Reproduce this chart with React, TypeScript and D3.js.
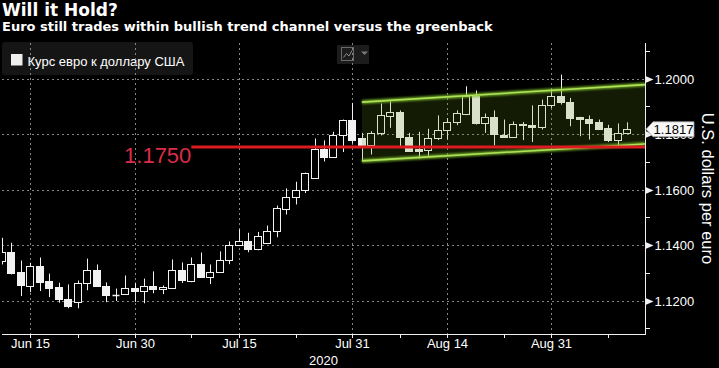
import React from 'react';
import * as d3 from 'd3';

const dates = ['Jun 10','Jun 11','Jun 12','Jun 15','Jun 16','Jun 17','Jun 18','Jun 19','Jun 22','Jun 23','Jun 24','Jun 25','Jun 26','Jun 29','Jun 30','Jul 1','Jul 2','Jul 3','Jul 6','Jul 7','Jul 8','Jul 9','Jul 10','Jul 13','Jul 14','Jul 15','Jul 16','Jul 17','Jul 20','Jul 21','Jul 22','Jul 23','Jul 24','Jul 27','Jul 28','Jul 29','Jul 30','Jul 31','Aug 3','Aug 4','Aug 5','Aug 6','Aug 7','Aug 10','Aug 11','Aug 12','Aug 13','Aug 14','Aug 17','Aug 18','Aug 19','Aug 20','Aug 21','Aug 24','Aug 25','Aug 26','Aug 27','Aug 28','Aug 31','Sep 1','Sep 2','Sep 3','Sep 4','Sep 7','Sep 8','Sep 9','Sep 10'];

const opens = [1.1342,1.1375,1.1301,1.1252,1.1325,1.1269,1.1247,1.1207,1.1195,1.1264,
  1.1311,1.1254,1.1221,1.1223,1.1246,1.1234,1.1253,1.1242,1.1245,1.1311,
  1.1272,1.1332,1.1284,1.1303,1.1347,1.1399,1.1416,1.1385,1.1409,1.1450,
  1.1529,1.1572,1.1598,1.1641,1.1747,1.1718,1.1795,1.1849,1.1787,1.1762,
  1.1803,1.1864,1.1880,1.1790,1.1747,1.1742,1.1785,1.1814,1.1845,1.1872,
  1.1936,1.1839,1.1863,1.1795,1.1790,1.1833,1.1834,1.1825,1.1903,1.1936,
  1.1917,1.1860,1.1855,1.1845,1.1820,1.1780,1.1805];
const highs = [1.1426,1.1408,1.1344,1.1336,1.1355,1.1297,1.1264,1.1258,1.1272,1.1351,
  1.1330,1.1265,1.1243,1.1290,1.1264,1.1279,1.1305,1.1254,1.1348,1.1337,
  1.1355,1.1373,1.1330,1.1377,1.1413,1.1456,1.1444,1.1447,1.1470,1.1542,
  1.1604,1.1628,1.1661,1.1784,1.1777,1.1808,1.1852,1.1912,1.1804,1.1810,
  1.1910,1.1918,1.1885,1.1804,1.1808,1.1819,1.1867,1.1857,1.1885,1.1972,
  1.1957,1.1874,1.1885,1.1852,1.1845,1.1843,1.1903,1.1924,1.1960,1.2014,
  1.1930,1.1862,1.1867,1.1852,1.1833,1.1838,1.1842];
const lows = [1.1330,1.1294,1.1216,1.1230,1.1234,1.1212,1.1192,1.1172,1.1172,1.1237,
  1.1250,1.1194,1.1198,1.1223,1.1195,1.1190,1.1226,1.1223,1.1243,1.1263,
  1.1266,1.1282,1.1259,1.1302,1.1331,1.1396,1.1374,1.1381,1.1405,1.1428,
  1.1510,1.1546,1.1587,1.1641,1.1701,1.1718,1.1735,1.1766,1.1705,1.1726,
  1.1795,1.1822,1.1756,1.1738,1.1711,1.1718,1.1778,1.1780,1.1832,1.1868,
  1.1834,1.1804,1.1759,1.1788,1.1788,1.1778,1.1771,1.1816,1.1894,1.1906,
  1.1828,1.1792,1.1780,1.1816,1.1771,1.1759,1.1802];
const closes = [1.1375,1.1300,1.1255,1.1325,1.1266,1.1245,1.1204,1.1180,1.1264,1.1311,
  1.1252,1.1219,1.1220,1.1246,1.1234,1.1253,1.1241,1.1249,1.1311,1.1273,
  1.1332,1.1284,1.1303,1.1347,1.1401,1.1415,1.1385,1.1431,1.1452,1.1532,
  1.1574,1.1600,1.1658,1.1747,1.1717,1.1795,1.1849,1.1778,1.1762,1.1805,
  1.1867,1.1880,1.1789,1.1738,1.1739,1.1786,1.1815,1.1844,1.1874,1.1936,
  1.1838,1.1862,1.1799,1.1789,1.1837,1.1837,1.1825,1.1904,1.1936,1.1915,
  1.1857,1.1855,1.1840,1.1819,1.1777,1.1803,1.1817];

const xMajorTicks = ['Jun 15','Jun 30','Jul 15','Jul 31','Aug 14','Aug 31'];
const xMinorTicks = ['Jun 22','Jul 8','Jul 23','Aug 7','Aug 24','Sep 8'];
const yearLabel = '2020';
const yMajorTicks = [1.12, 1.14, 1.16, 1.18, 1.20];
const yMinorTicks = [1.11, 1.13, 1.15, 1.17, 1.19, 1.21];

const channelStart = 'Aug 3';
const channelUpper = [1.1915, 1.1978];
const channelLower = [1.1703, 1.1764];
const supportLevel = 1.1750;
const supportStart = 'Jul 8';
const lastPrice = 1.1817;

const title = 'Will it Hold?';
const subtitle = 'Euro still trades within bullish trend channel versus the greenback';
const legendLabel = 'Курс евро к доллару США';
const yAxisTitle = 'U.S. dollars per euro';

const W = 719;
const H = 368;
const plot = { left: 2, right: 645, top: 43, bottom: 334 };
const sans = 'Liberation Sans, Arial, sans-serif';

export default function App() {
  const x = d3.scaleLinear().domain([0, 67.9]).range([1.9, 645.1]);
  const y = d3.scaleLinear().domain([1.12, 1.2]).range([300.5, 78.5]);
  const idx = (d: string) => dates.indexOf(d);
  const xd1 = x.domain()[1];

  const cs = idx(channelStart);
  const chPts: [number, number][] = [
    [x(cs), y(channelUpper[0])],
    [x(xd1), y(channelUpper[1])],
    [x(xd1), y(channelLower[1])],
    [x(cs), y(channelLower[0])],
  ];
  const line = d3.line();
  const upperPath = line([chPts[0], chPts[1]]) as string;
  const lowerPath = line([chPts[3], chPts[2]]) as string;
  const polyPath = (line(chPts) as string) + 'Z';

  const ySup = y(supportLevel);
  const yLast = y(lastPrice);
  const yMid = (plot.top + plot.bottom) / 2;

  return (
    <svg width={W} height={H} style={{ position: 'fixed', left: 0, top: 0, background: '#000' }}>
      <defs>
        <clipPath id="plotclip">
          <rect x={plot.left} y={plot.top} width={plot.right - plot.left} height={plot.bottom - plot.top} />
        </clipPath>
        <filter id="glow" x="-10%" y="-50%" width="120%" height="200%">
          <feGaussianBlur stdDeviation="1.3" />
        </filter>
      </defs>
      <rect x={0} y={0} width={W} height={H} fill="#000" />

      {/* titles */}
      <text x={2} y={16} fill="#fff" fontFamily="DejaVu Sans, sans-serif" fontWeight="bold" fontSize={17}>{title}</text>
      <text x={2} y={31} fill="#fff" fontFamily="DejaVu Sans, sans-serif" fontWeight="bold" fontSize={13}>{subtitle}</text>

      {/* legend */}
      <rect x={2} y={42} width={191} height={33} rx={3} fill="#151515" />
      <rect x={11} y={54} width={11.5} height={11.5} fill="#eeeeee" />
      <text x={27.5} y={65.5} fill="#fff" fontFamily={sans} fontSize={13}>{legendLabel}</text>
      <rect x={337} y={45} width={32} height={19} fill="#1c1c1c" />
      <rect x={341.5} y={47.5} width={12} height={13} fill="none" stroke="#6a6a6a" />
      <polyline points="343.5,57.5 346.5,53.5 349,56 352,50.5" fill="none" stroke="#8a8a8a" />
      <polygon points="361,51.5 368,51.5 364.5,55" fill="#7a7a7a" />

      {/* gridlines */}
      <g stroke="#858585" strokeWidth={1} strokeDasharray="2,3">
        {yMajorTicks.map((t) => {
          const yy = Math.round(y(t)) + 0.5;
          return <line key={'hg' + t} x1={plot.left} x2={plot.right} y1={yy} y2={yy} />;
        })}
        {xMajorTicks.map((d) => {
          const xx = Math.round(x(idx(d))) + 0.5;
          return <line key={'vg' + d} x1={xx} x2={xx} y1={plot.top} y2={plot.bottom} />;
        })}
      </g>

      {/* candles */}
      <g clipPath="url(#plotclip)">
        {dates.map((d, i) => {
          const o = opens[i], c = closes[i], h = highs[i], l = lows[i];
          const up = c > o;
          const cx = Math.round(x(i));
          const top = Math.round(y(Math.max(o, c)));
          const bot = Math.round(y(Math.min(o, c)));
          const bh = bot - top;
          const fill = up ? '#000' : '#f2f2f2';
          return (
            <g key={d}>
              <line x1={cx + 0.5} x2={cx + 0.5} y1={y(h)} y2={y(l)} stroke="#f2f2f2" strokeWidth={1} />
              {bh >= 1 ? (
                <rect x={cx - 3.5} y={top + 0.5} width={7} height={bh} fill={fill} stroke="#f2f2f2" strokeWidth={1} />
              ) : (
                <line x1={cx - 3.5} x2={cx + 3.5} y1={top + 0.5} y2={top + 0.5} stroke="#f2f2f2" strokeWidth={1.5} />
              )}
            </g>
          );
        })}

        {/* trend channel */}
        <path d={polyPath} fill="rgba(103,152,27,0.18)" />
        <path d={upperPath} stroke="#7fc22a" strokeWidth={4} opacity={0.8} filter="url(#glow)" fill="none" />
        <path d={lowerPath} stroke="#7fc22a" strokeWidth={4} opacity={0.8} filter="url(#glow)" fill="none" />
        <path d={upperPath} stroke="#aee05a" strokeWidth={1.6} fill="none" />
        <path d={lowerPath} stroke="#aee05a" strokeWidth={1.6} fill="none" />

        {/* support line */}
        <line x1={x(idx(supportStart))} x2={plot.right} y1={ySup - 0.8} y2={ySup - 0.8} stroke="#dc1a20" strokeWidth={3} />
      </g>
      <text x={x(idx(supportStart))} y={ySup + 15.5} textAnchor="end" fill="#dc2c48" fontFamily={sans} fontSize={22}>
        {supportLevel.toFixed(4)}
      </text>

      {/* axes */}
      <line x1={plot.right + 0.5} x2={plot.right + 0.5} y1={plot.top} y2={plot.bottom} stroke="#f0f0f0" />
      <line x1={plot.left} x2={plot.right + 1} y1={plot.bottom + 0.5} y2={plot.bottom + 0.5} stroke="#f0f0f0" />

      {yMinorTicks.map((t) => {
        const yy = Math.round(y(t)) + 0.5;
        return <line key={'ym' + t} x1={plot.right} x2={plot.right + 5} y1={yy} y2={yy} stroke="#f0f0f0" />;
      })}
      {yMajorTicks.map((t) => {
        const yy = Math.round(y(t)) + 0.5;
        return (
          <g key={'yt' + t}>
            <polygon points={`${plot.right + 1},${yy - 3.2} ${plot.right + 8.5},${yy} ${plot.right + 1},${yy + 3.2}`} fill="#f0f0f0" />
            <text x={plot.right + 9.5} y={yy} dy="0.35em" fill="#fff" fontFamily={sans} fontSize={13}>{t.toFixed(4)}</text>
          </g>
        );
      })}

      {/* last price tag */}
      <path
        d={`M${plot.right + 1},${yLast} L${plot.right + 8},${yLast - 7.5} L${plot.right + 49},${yLast - 7.5} L${plot.right + 49},${yLast + 7.5} L${plot.right + 8},${yLast + 7.5} Z`}
        fill="#f7f7f7" stroke="#9a9a9a" strokeWidth={0.8}
      />
      <text x={plot.right + 28.5} y={yLast} dy="0.36em" textAnchor="middle" fill="#000" fontFamily={sans} fontSize={13}>
        {lastPrice.toFixed(4)}
      </text>

      <text transform={`translate(708, ${yMid}) rotate(90)`}
        textAnchor="middle" dy="0.35em" fill="#fff" fontFamily={sans} fontSize={16.5}>{yAxisTitle}</text>

      {/* x axis */}
      {xMinorTicks.map((d) => {
        const xx = Math.round(x(idx(d))) + 0.5;
        return <line key={'xm' + d} x1={xx} x2={xx} y1={plot.bottom} y2={plot.bottom + 4} stroke="#f0f0f0" />;
      })}
      {xMajorTicks.map((d) => {
        const xx = Math.round(x(idx(d))) + 0.5;
        return (
          <g key={'xt' + d}>
            <line x1={xx} x2={xx} y1={plot.bottom} y2={plot.bottom + 4} stroke="#f0f0f0" />
            <text x={xx} y={plot.bottom + 14} textAnchor="middle" fill="#fff" fontFamily={sans} fontSize={13}>{d}</text>
          </g>
        );
      })}
      <text x={(plot.left + plot.right) / 2} y={plot.bottom + 31} textAnchor="middle" fill="#fff" fontFamily={sans} fontSize={13}>{yearLabel}</text>
    </svg>
  );
}
